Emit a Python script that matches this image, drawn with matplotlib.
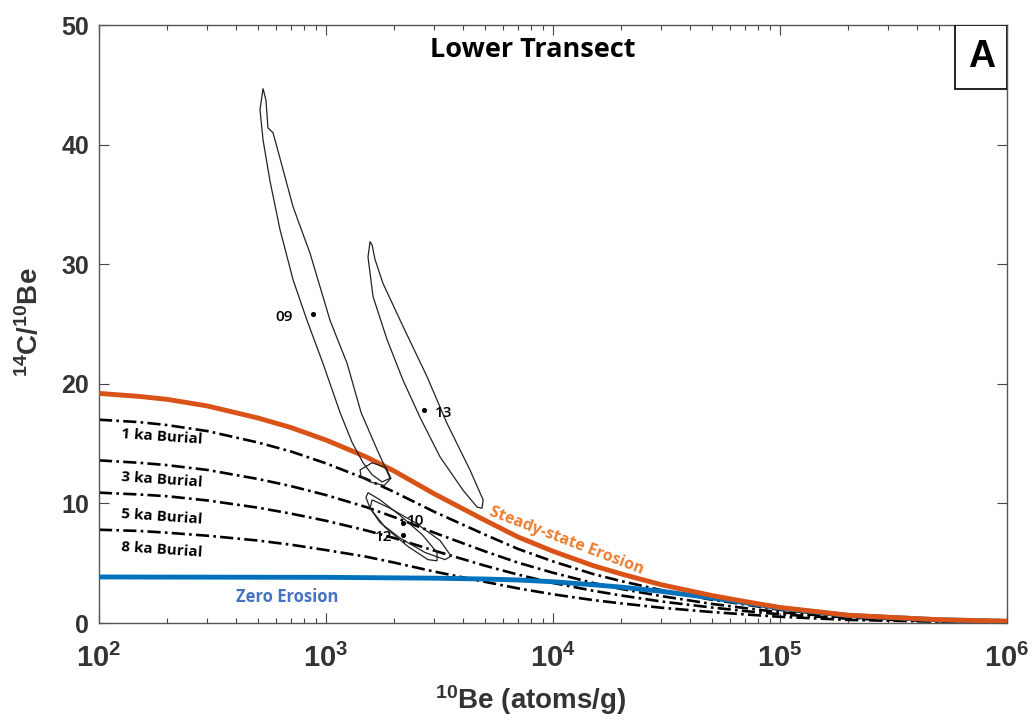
import numpy as np
import matplotlib.pyplot as plt
from matplotlib.patches import Polygon, Rectangle

plt.rcParams['mathtext.default'] = 'regular'

# Curve grid (10Be, atoms/g) and 14C/10Be ratios
be_grid = [100, 150, 200, 300, 500, 700, 1000, 1500, 2000, 3000, 5000, 7000,
           10000, 15000, 20000, 30000, 50000, 70000, 100000, 200000, 500000, 1000000]
steady_state = [19.2, 18.95, 18.7, 18.15, 17.15, 16.35, 15.3, 13.9, 12.7, 10.8, 8.6, 7.2,
                6.0, 4.8, 4.1, 3.2, 2.3, 1.8, 1.3, 0.65, 0.28, 0.15]
burial_1ka = [17.0, 16.8, 16.55, 16.05, 15.1, 14.35, 13.35, 12.05, 10.95, 9.3, 7.4, 6.2,
              5.15, 4.1, 3.5, 2.75, 1.95, 1.55, 1.1, 0.55, 0.24, 0.12]
burial_3ka = [13.6, 13.4, 13.2, 12.8, 12.05, 11.45, 10.7, 9.7, 8.85, 7.55, 6.0, 5.05,
              4.2, 3.35, 2.85, 2.25, 1.6, 1.25, 0.9, 0.45, 0.2, 0.1]
burial_5ka = [10.9, 10.75, 10.6, 10.25, 9.65, 9.15, 8.55, 7.75, 7.1, 6.05, 4.8, 4.05,
              3.35, 2.7, 2.3, 1.8, 1.3, 1.0, 0.73, 0.36, 0.16, 0.08]
burial_8ka = [7.8, 7.7, 7.55, 7.3, 6.9, 6.55, 6.1, 5.55, 5.05, 4.3, 3.45, 2.9,
              2.4, 1.92, 1.64, 1.28, 0.92, 0.72, 0.52, 0.26, 0.11, 0.06]

zero_be = [100, 1000, 3000, 5000, 7000, 10000, 15000, 20000, 30000, 50000, 70000,
           100000, 200000, 500000, 1000000]
zero_erosion = [3.85, 3.82, 3.75, 3.68, 3.6, 3.45, 3.2, 3.0, 2.65, 2.1, 1.7,
                1.25, 0.63, 0.27, 0.14]

# Sample contours (10Be, ratio)
c09_be = [528, 512, 528, 566, 627, 716, 825, 970, 1153, 1303, 1456, 1596, 1766,
          1914, 1803, 1679, 1427, 1239, 1042, 851, 716, 608, 584, 555, 544]
c09_r = [44.7, 42.9, 40.4, 37.0, 32.9, 28.7, 25.3, 21.7, 17.6, 15.1, 13.4, 12.4, 11.8,
         12.1, 13.2, 14.5, 17.6, 21.7, 25.3, 30.9, 34.8, 39.8, 41.0, 41.4, 43.7]
c09b_be = [1413, 1596, 1837, 1932, 1803, 1563, 1427]
c09b_r = [12.8, 13.4, 13.0, 12.1, 11.5, 11.8, 12.2]
c13_be = [1563, 1531, 1611, 1857, 2184, 2594, 3177, 4015, 4625, 4867,
          4920, 4305, 3410, 2786, 2184, 1782, 1644, 1596]
c13_r = [31.9, 30.6, 27.3, 23.7, 20.3, 17.2, 13.9, 11.1, 9.7, 9.6,
         10.3, 12.8, 16.7, 20.6, 24.8, 28.4, 30.4, 31.6]
c12_be = [1531, 1729, 2118, 2649, 3083, 3083, 2812, 2296, 1821, 1563, 1500]
c12_r = [10.9, 10.3, 9.0, 7.4, 5.9, 5.2, 5.3, 6.4, 8.0, 9.6, 10.5]
c10_be = [1596, 1914, 2466, 3177, 3556, 3345, 2729, 2118, 1729, 1563]
c10_r = [10.3, 9.6, 8.4, 6.9, 5.6, 5.3, 5.9, 7.1, 8.4, 9.6]

samples = ['09', '13', '10', '12']
sample_be = [877, 2705, 2184, 2174]
sample_r = [25.8, 17.8, 8.4, 7.4]

burial_labels = ['1 ka Burial', '3 ka Burial', '5 ka Burial', '8 ka Burial']
burial_label_r = [15.6, 12.0, 8.9, 6.1]

fig = plt.figure(figsize=(10.32, 7.28), dpi=100)
ax = fig.add_axes([0.0959, 0.1442, 0.88, 0.8214])

dash = (5, 1.6, 1, 1.6)
for curve in [burial_1ka, burial_3ka, burial_5ka, burial_8ka]:
    ax.plot(be_grid, curve, color='black', lw=1.9, dashes=dash, zorder=2)
ax.plot(zero_be, zero_erosion, color='#0072BD', lw=3.5, zorder=3)
ax.plot(be_grid, steady_state, color='#D95319', lw=3.5, zorder=4)

for bx, ry in [(c09_be, c09_r), (c09b_be, c09b_r), (c13_be, c13_r),
               (c12_be, c12_r), (c10_be, c10_r)]:
    ax.add_patch(Polygon(np.column_stack([bx, ry]), closed=True, fill=False,
                         edgecolor='#222222', lw=0.9, zorder=5))

ax.scatter(sample_be, sample_r, s=7, color='black', zorder=6)
lab_off = {'09': (-27, -2), '13': (8, -2), '10': (3, 1), '12': (-20, -2)}
for name, bx, ry in zip(samples, sample_be, sample_r):
    ax.annotate(name, (bx, ry), xytext=lab_off[name], textcoords='offset points',
                fontsize=11, fontfamily='Open Sans', fontweight='semibold',
                va='center', zorder=7)

for text, ry in zip(burial_labels, burial_label_r):
    ax.text(190, ry, text, fontsize=11, fontfamily='Open Sans', fontweight='bold',
            ha='center', va='center', rotation=-4, zorder=7)

ax.text(11500, 6.9, 'Steady-state Erosion', color='#ED7D31', fontsize=11.5,
        fontfamily='Open Sans', fontweight='bold', ha='center', va='center',
        rotation=-21, zorder=7)
ax.text(673, 2.2, 'Zero Erosion', color='#4472C4', fontsize=12,
        fontfamily='Open Sans', fontweight='bold', ha='center', va='center', zorder=7)

ax.text(0.478, 0.958, 'Lower Transect', transform=ax.transAxes, fontsize=19.5,
        fontfamily='Open Sans', fontweight='bold', ha='center', va='center')
ax.add_patch(Rectangle((0.943, 0.893), 0.057, 0.107, transform=ax.transAxes,
                       fill=True, facecolor='white', edgecolor='black', lw=1.2, zorder=8))
ax.text(0.9715, 0.946, 'A', transform=ax.transAxes, fontsize=27,
        fontfamily='Liberation Sans', fontweight='bold', ha='center', va='center', zorder=9)

ax.set_xscale('log')
ax.set_xlim(100, 1e6)
ax.set_ylim(0, 50)
ax.set_yticks([0, 10, 20, 30, 40, 50])

ax.tick_params(which='both', direction='in', top=True, right=True, color='#444444')
ax.tick_params(which='major', length=7, width=0.8)
ax.tick_params(which='minor', length=3.5, width=0.8)
ax.tick_params(axis='y', labelsize=18, pad=7)
ax.tick_params(axis='x', labelsize=21, pad=15)
for lbl in ax.get_yticklabels():
    lbl.set_fontweight('bold')
    lbl.set_fontfamily('Liberation Sans')
    lbl.set_color('#333333')
for lbl in ax.get_xticklabels():
    lbl.set_fontfamily('Liberation Sans')
    lbl.set_fontweight('bold')
    lbl.set_color('#333333')
for sp in ax.spines.values():
    sp.set_color('#555555')
    sp.set_linewidth(1.0)

ax.set_xlabel(r'$^{10}$Be (atoms/g)', fontsize=20, fontfamily='Liberation Sans',
              fontweight='bold', color='#333333')
ax.xaxis.set_label_coords(0.475, -0.1)
ax.set_ylabel(r'$^{14}$C/$^{10}$Be', fontsize=20, fontfamily='Liberation Sans',
              fontweight='bold', color='#333333')
ax.yaxis.set_label_coords(-0.06, 0.503)

fig.savefig('out.png', dpi=100)
